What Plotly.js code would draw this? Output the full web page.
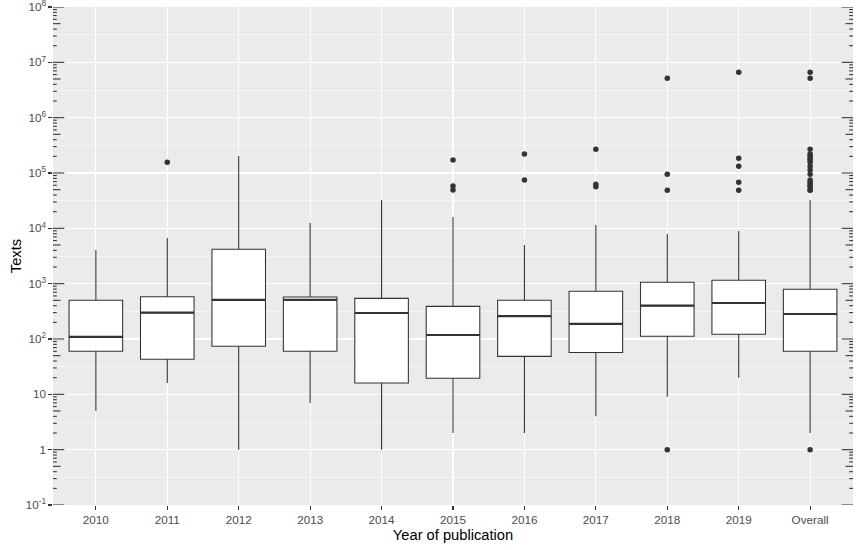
<!DOCTYPE html>
<html>
<head>
<meta charset="utf-8">
<script src="https://cdn.plot.ly/plotly-3.0.1.min.js"></script>
<style>html,body{margin:0;padding:0;background:#fff;}#chart{width:862px;height:550px;}</style>
</head>
<body>
<div id="chart"></div>
<script>
// ---- data ----
const categories = ['2010','2011','2012','2013','2014','2015','2016','2017','2018','2019','Overall'];
const lowerWhisker = [5, 16, 1, 7, 1, 2, 2, 4, 9, 20, 2];
const q1Values     = [60, 43, 74, 60, 16, 19.5, 48.6, 57, 112, 122, 60];
const medianValues = [109, 299, 510, 510, 295, 118, 260, 187, 400, 447, 283];
const q3Values     = [500, 582, 4180, 575, 543, 389, 500, 728, 1058, 1150, 791];
const upperWhisker = [4050, 6680, 203000, 12500, 32500, 16000, 5000, 11500, 7890, 8950, 32500];

const outlierCats = [
  '2011',
  '2015','2015','2015',
  '2016','2016',
  '2017','2017','2017',
  '2018','2018','2018','2018',
  '2019','2019','2019','2019','2019',
  'Overall','Overall','Overall','Overall','Overall','Overall','Overall','Overall','Overall',
  'Overall','Overall','Overall','Overall','Overall','Overall','Overall','Overall','Overall','Overall','Overall'
];
const outlierVals = [
  156000,
  172000, 58200, 49300,
  220000, 74700,
  268000, 62400, 56500,
  5140000, 94700, 48700, 1,
  6600000, 184000, 132000, 67900, 48700,
  6600000, 5140000, 268000, 220000, 203000, 184000, 172000, 156000, 132000,
  113000, 94700, 74700, 67900, 62400, 58200, 56500, 49300, 48700, 1
];

const yTickVals = [0.1, 1, 10, 100, 1000, 1e4, 1e5, 1e6, 1e7, 1e8];
const yTickText = ['10<sup>-1</sup>','1','10','10<sup>2</sup>','10<sup>3</sup>','10<sup>4</sup>','10<sup>5</sup>','10<sup>6</sup>','10<sup>7</sup>','10<sup>8</sup>'];
const logtickDigits = [1, 2, 3, 4, 5, 6, 7, 8, 9];

// ---- styles ----
const dark = '#333333';
const txt = '#4D4D4D';
const FONT = 'Liberation Sans, Arial, sans-serif';
const PANEL_W = 800;

// log tick annotation marks (inside the panel, both sides), like annotation_logticks
const shapes = [];
yTickVals.forEach(function (dec, i) {
  logtickDigits.forEach(function (d) {
    const v = dec * d;
    if (i === yTickVals.length - 1 && d > 1) return;
    const len = d === 1 ? 11.3 : (d === 5 ? 7.5 : 3.8);
    const f = len / PANEL_W;
    [[0, f], [1 - f, 1]].forEach(function (xs) {
      shapes.push({type: 'line', xref: 'x domain', yref: 'y', x0: xs[0], x1: xs[1], y0: v, y1: v,
        line: {color: dark, width: 1.07}, layer: 'above'});
    });
  });
});

const boxTrace = {
  type: 'box',
  x: categories,
  q1: q1Values,
  median: medianValues,
  q3: q3Values,
  lowerfence: lowerWhisker,
  upperfence: upperWhisker,
  boxpoints: false,
  width: 0.75,
  whiskerwidth: 0,
  fillcolor: '#FFFFFF',
  line: {color: dark, width: 1.07},
  hoverinfo: 'skip',
  showlegend: false
};
const medianTrace = {
  type: 'box',
  x: categories,
  q1: medianValues,
  median: medianValues,
  q3: medianValues,
  lowerfence: medianValues,
  upperfence: medianValues,
  boxpoints: false,
  width: 0.75,
  whiskerwidth: 0,
  fillcolor: 'rgba(0,0,0,0)',
  line: {color: dark, width: 2.2},
  hoverinfo: 'skip',
  showlegend: false
};
const outlierTrace = {
  type: 'scatter',
  mode: 'markers',
  x: outlierCats,
  y: outlierVals,
  marker: {color: dark, size: 5.5, line: {width: 0}},
  hoverinfo: 'skip',
  showlegend: false
};

const layout = {
  width: 862, height: 550,
  margin: {l: 53, r: 9, t: 7, b: 45},
  paper_bgcolor: '#FFFFFF',
  plot_bgcolor: '#EBEBEB',
  boxmode: 'overlay',
  font: {family: FONT, color: txt},
  shapes: shapes,
  xaxis: {
    type: 'category',
    categoryorder: 'array', categoryarray: categories,
    range: [-0.6, 10.6],
    showgrid: true, gridcolor: '#FFFFFF', gridwidth: 1.07,
    zeroline: false, showline: false,
    ticks: 'outside', ticklen: 3.7, tickwidth: 1.07, tickcolor: dark,
    tickfont: {family: FONT, size: 11.7, color: txt},
    title: {text: 'Year of publication', font: {family: FONT, size: 14.7, color: '#000000'}, standoff: 4}
  },
  yaxis: {
    type: 'log', range: [-1, 8],
    tickmode: 'array', tickvals: yTickVals, ticktext: yTickText,
    ticklabeloverflow: 'allow',
    showgrid: true, gridcolor: '#FFFFFF', gridwidth: 1.07,
    minor: {tick0: 0.5, dtick: 1, showgrid: true, gridcolor: '#FFFFFF', gridwidth: 0.53, ticks: ''},
    zeroline: false, showline: false,
    ticks: 'outside', ticklen: 3.7, tickwidth: 1.07, tickcolor: dark,
    tickfont: {family: FONT, size: 11.7, color: txt},
    title: {text: 'Texts', font: {family: FONT, size: 14.7, color: '#000000'}, standoff: 0}
  }
};

Plotly.newPlot('chart', [boxTrace, medianTrace, outlierTrace], layout, {displayModeBar: false, staticPlot: true});
</script>
</body>
</html>
